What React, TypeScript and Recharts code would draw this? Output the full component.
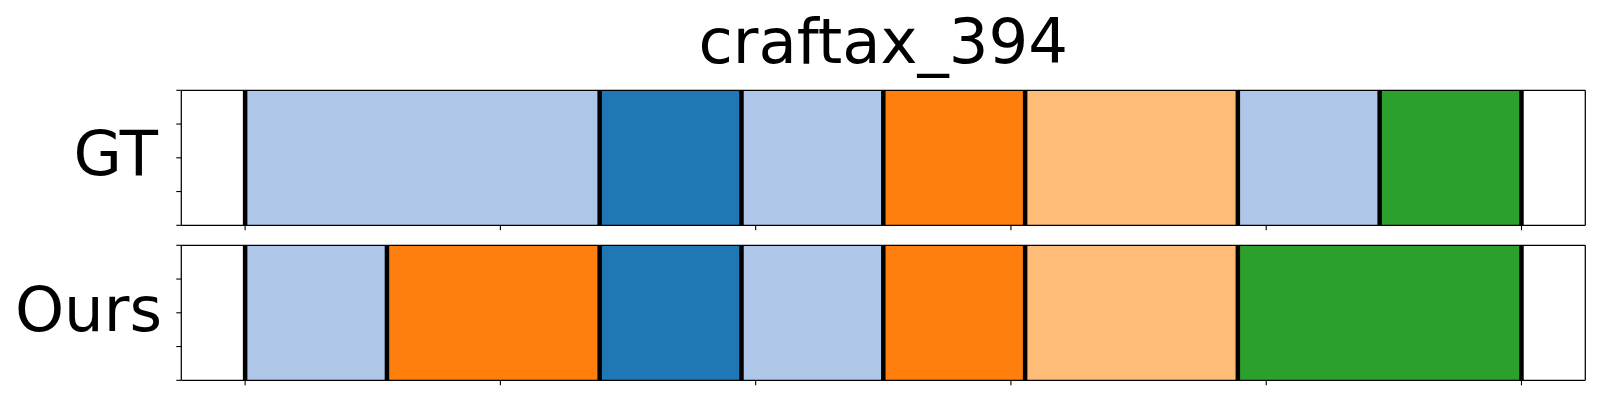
import React from "react";
import { ComposedChart, Bar, Scatter, XAxis, YAxis, ReferenceLine } from "recharts";

// tab20 colours, indexed by class id
const classPalette = ["#1f77b4", "#aec7e8", "#ff7f0e", "#ffbb78", "#2ca02c"];

const title = "craftax_394";
const rowLabels = ["GT", "Ours"];

// segment class ids and durations (in time units), left to right
const gtClasses = [1, 0, 1, 2, 3, 1, 4];
const gtLengths = [5, 2, 2, 2, 3, 2, 2];
const oursClasses = [1, 2, 0, 1, 2, 3, 4];
const oursLengths = [2, 3, 2, 2, 2, 3, 4];

const xTicks = [0, 3.6, 7.2, 10.8, 14.4, 18];
const yTicks = [0, 0.25, 0.5, 0.75, 1];
// invisible anchors giving the frame's y axis its [0, 1] range
const yAnchors = [
  { x: 0, y: 0 },
  { x: 0, y: 1 },
];

const total = 18;
const xDomain: [number, number] = [-0.05 * total, total * 1.05];

const PLOT_LEFT = 181.3;
const PLOT_RIGHT = 1585.3;
const AX = 1; // thickness reserved by each axis

function cumulative(lengths: number[]): number[] {
  const out = [0];
  let s = 0;
  for (const l of lengths) {
    s += l;
    out.push(s);
  }
  return out;
}

function Panel({
  name,
  classes,
  lengths,
  top,
  bottom,
  height,
}: {
  name: string;
  classes: number[];
  lengths: number[];
  top: number;
  bottom: number;
  height: number;
}) {
  const row: Record<string, any> = { name };
  lengths.forEach((l, i) => (row[`s${i}`] = l));
  const data = [row];
  const bounds = cumulative(lengths);
  const axisStyle = { stroke: "#000", strokeWidth: 1.25 };
  return (
    <div style={{ position: "absolute", left: 0, top: 0 }}>
      <ComposedChart
        width={1600}
        height={height}
        layout="vertical"
        data={data}
        barCategoryGap={0}
        margin={{
          top: top - AX,
          bottom: height - bottom - AX,
          left: PLOT_LEFT - AX,
          right: 1600 - PLOT_RIGHT - AX,
        }}
      >
        <YAxis type="category" dataKey="name" hide width={0} />
        {lengths.map((_, i) => (
          <Bar
            key={i}
            dataKey={`s${i}`}
            stackId="seg"
            fill={classPalette[classes[i]]}
            isAnimationActive={false}
          />
        ))}
        {bounds.map((b, i) => (
          <ReferenceLine key={`b${i}`} x={b} stroke="#000" strokeWidth={4.5} ifOverflow="visible" />
        ))}
        <Scatter
          data={yAnchors}
          xAxisId="top"
          yAxisId="l"
          dataKey="y"
          shape={() => <g />}
          legendType="none"
          isAnimationActive={false}
        />
        <XAxis
          type="number"
          domain={xDomain}
          allowDataOverflow
          ticks={xTicks}
          interval={0}
          tickFormatter={() => ""}
          height={AX}
          tickSize={5}
          stroke="#000"
          axisLine={axisStyle}
          tickLine={{ stroke: "#000", strokeWidth: 1.1 }}
        />
        <XAxis
          xAxisId="top"
          orientation="top"
          type="number"
          dataKey="x"
          domain={xDomain}
          allowDataOverflow
          height={AX}
          tick={false}
          tickLine={false}
          stroke="#000"
          axisLine={axisStyle}
        />
        <YAxis
          yAxisId="l"
          type="number"
          scale="linear"
          dataKey="y"
          domain={[0, 1]}
          allowDataOverflow
          ticks={yTicks}
          interval={0}
          tickFormatter={() => ""}
          width={AX}
          tickSize={5}
          stroke="#000"
          axisLine={axisStyle}
          tickLine={{ stroke: "#000", strokeWidth: 1.1 }}
        />
        <YAxis
          yAxisId="r"
          orientation="right"
          type="number"
          scale="linear"
          domain={[0, 1]}
          allowDataOverflow
          width={AX}
          tick={false}
          tickLine={false}
          stroke="#000"
          axisLine={axisStyle}
        />
      </ComposedChart>
    </div>
  );
}

export default function App() {
  return (
    <div
      style={{
        position: "fixed",
        left: 0,
        top: 0,
        width: 1600,
        height: 400,
        background: "#fff",
        fontFamily: "'DejaVu Sans', sans-serif",
      }}
    >
      <Panel name={rowLabels[0]} classes={gtClasses} lengths={gtLengths} top={90.3} bottom={225.3} height={240} />
      <Panel name={rowLabels[1]} classes={oursClasses} lengths={oursLengths} top={245.3} bottom={380.3} height={400} />
      <svg
        width={1600}
        height={400}
        style={{ position: "absolute", left: 0, top: 0, pointerEvents: "none" }}
      >
        <text x={(PLOT_LEFT + PLOT_RIGHT) / 2} y={63} textAnchor="middle" fontSize={62.5} fontFamily="DejaVu Sans" fill="#000">
          {title}
        </text>
        <text x={158} y={175} textAnchor="end" fontSize={62.5} fontFamily="DejaVu Sans" fill="#000">
          {rowLabels[0]}
        </text>
        <text x={162} y={330.7} textAnchor="end" fontSize={62.5} fontFamily="DejaVu Sans" fill="#000">
          {rowLabels[1]}
        </text>
      </svg>
    </div>
  );
}
